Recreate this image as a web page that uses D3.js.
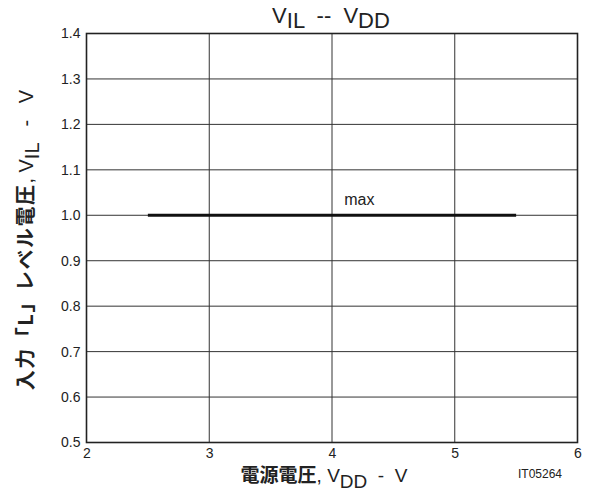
<!DOCTYPE html>
<html><head><meta charset="utf-8">
<script src="https://cdn.jsdelivr.net/npm/d3@7"></script>
<style>body{margin:0;background:#fff}svg{display:block}text{white-space:pre}</style>
</head><body>
<svg id="c" width="591" height="498"></svg>
<script>
const xTicks = [2, 3, 4, 5, 6];
const yTicks = [0.5, 0.6, 0.7, 0.8, 0.9, 1.0, 1.1, 1.2, 1.3, 1.4];
const seriesVdd = [2.5, 5.5];
const seriesVil = [1.0, 1.0];
const seriesLabel = "max";

const svg = d3.select("#c");
const font = "'Liberation Sans', Arial, sans-serif";
const jfont = "'Noto Sans CJK JP', sans-serif";
const L = 86.5, R = 577.5, T = 33.5, B = 442.5;
const x = d3.scaleLinear().domain([2, 6]).range([L, R]);
const y = d3.scaleLinear().domain([0.5, 1.4]).range([B, T]);

// grid
const g = svg.append("g");
g.selectAll(".vg").data(xTicks).enter().append("line")
  .attr("x1", d => x(d)).attr("x2", d => x(d)).attr("y1", T).attr("y2", B)
  .attr("stroke", "#333").attr("stroke-width", 1);
g.selectAll(".hg").data(yTicks).enter().append("line")
  .attr("y1", d => y(d)).attr("y2", d => y(d)).attr("x1", L).attr("x2", R)
  .attr("stroke", "#333").attr("stroke-width", 1);
g.append("rect").attr("x", L).attr("y", T).attr("width", R - L).attr("height", B - T)
  .attr("fill", "none").attr("stroke", "#222").attr("stroke-width", 1.6);

// axes labels via d3 axes
const xAxis = svg.append("g").attr("transform", `translate(0,${B})`)
  .call(d3.axisBottom(x).tickValues(xTicks).tickSize(0).tickPadding(6).tickFormat(d3.format("d")));
xAxis.select(".domain").remove();
xAxis.selectAll("text").attr("font-family", font).attr("font-size", 14).attr("fill", "#222");

const yAxis = svg.append("g").attr("transform", `translate(${L},0)`)
  .call(d3.axisLeft(y).tickValues(yTicks).tickSize(0).tickPadding(6).tickFormat(d3.format(".1f")));
yAxis.select(".domain").remove();
yAxis.selectAll("text").attr("font-family", font).attr("font-size", 14).attr("fill", "#222");

// data line
const line = d3.line().x(d => x(d[0])).y(d => y(d[1]));
svg.append("path").datum(seriesVdd.map((v, i) => [v, seriesVil[i]]))
  .attr("d", line).attr("stroke", "#111").attr("stroke-width", 3).attr("fill", "none");
svg.append("text").attr("x", x(4.1)).attr("y", y(1.0) - 10)
  .attr("font-family", font).attr("font-size", 16).attr("fill", "#222").text(seriesLabel);

// title
const title = svg.append("text").attr("x", 331).attr("y", 23).attr("text-anchor", "middle")
  .attr("font-family", font).attr("font-size", 22).attr("fill", "#222");
title.append("tspan").text("V");
title.append("tspan").attr("dy", 5).text("IL");
title.append("tspan").attr("dy", -5).text("  --  V");
title.append("tspan").attr("dy", 5).text("DD");

// x label
const xl = svg.append("text").attr("x", 324).attr("y", 482).attr("text-anchor", "middle")
  .attr("font-size", 19).attr("fill", "#222");
xl.append("tspan").attr("font-family", jfont).attr("font-weight", "bold").text("電源電圧");
xl.append("tspan").attr("font-family", font).text(", V");
xl.append("tspan").attr("font-family", font).attr("dy", 6).text("DD");
xl.append("tspan").attr("font-family", font).attr("dy", -6).text("  -  V");

svg.append("text").attr("x", 540).attr("y", 478).attr("text-anchor", "middle")
  .attr("font-family", font).attr("font-size", 12).attr("fill", "#222").text("IT05264");

// y label
const yl = svg.append("text").attr("transform", "translate(33,240) rotate(-90)")
  .attr("text-anchor", "middle").attr("font-size", 20).attr("fill", "#222");
yl.append("tspan").attr("font-family", jfont).attr("font-weight", "bold")
  .attr("letter-spacing", 1.5).text("入力「L」レベル電圧");
yl.append("tspan").attr("font-family", font).text(", V");
yl.append("tspan").attr("font-family", font).attr("dy", 6).text("IL");
yl.append("tspan").attr("font-family", font).attr("dy", -6).text("   -   V");
</script>
</body></html>
